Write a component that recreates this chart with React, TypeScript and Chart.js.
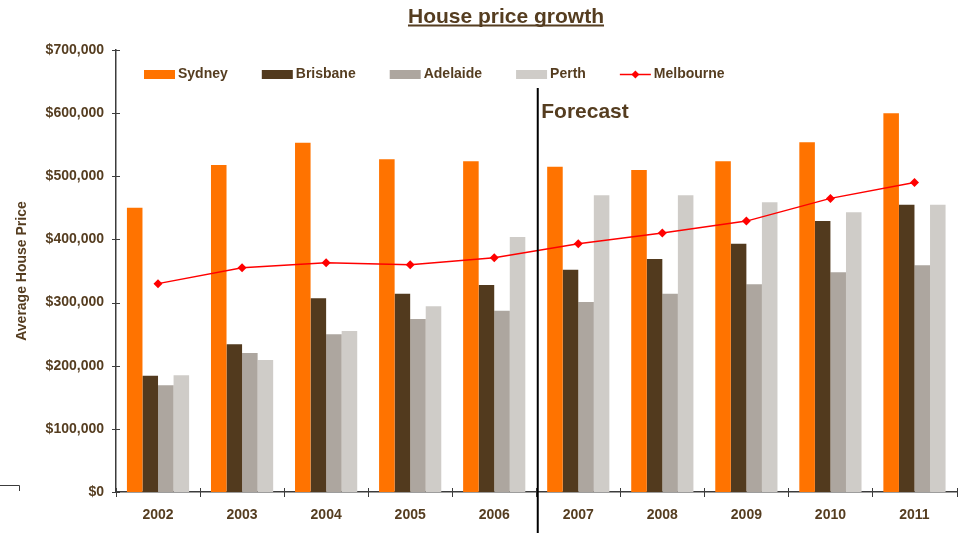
import { useEffect, useRef } from 'react';
import { Chart, registerables } from 'chart.js';

Chart.register(...registerables);

const years = ['2002', '2003', '2004', '2005', '2006', '2007', '2008', '2009', '2010', '2011'];
const sydney = [450000, 518000, 553000, 527000, 524000, 515000, 510000, 524000, 554000, 600000];
const brisbane = [184000, 234000, 307000, 314000, 328000, 352000, 369000, 393000, 429000, 455000];
const adelaide = [169000, 220000, 250000, 274000, 287000, 301000, 314000, 329000, 348000, 359000];
const perth = [185000, 209000, 255000, 294000, 404000, 470000, 470000, 459000, 443000, 455000];
const melbourne = [330000, 355000, 363000, 360000, 371000, 393000, 410000, 429000, 465000, 490000];
const yTicks = [0, 100000, 200000, 300000, 400000, 500000, 600000, 700000];

const chartTitle = 'House price growth';
const yAxisTitle = 'Average House Price';
const forecastLabel = 'Forecast';
const forecastStart = 5;

const TEXT = '#553D20';
const AXIS = '#3c3c3c';
const FONT = '"Liberation Sans", Arial, sans-serif';
const colors = {
  Sydney: '#FF7300',
  Brisbane: '#523A1E',
  Adelaide: '#ADA69F',
  Perth: '#CFCCC8',
  Melbourne: '#FF0000',
};

const fmt = (v: number) => '$' + Math.round(v).toLocaleString('en-US');

const decorPlugin = {
  id: 'decor',
  afterDraw(chart: any) {
    const { ctx, chartArea, scales } = chart;
    const xs = scales.x;
    const ys = scales.y;
    ctx.save();

    // tick marks crossing the axes
    ctx.strokeStyle = AXIS;
    ctx.lineWidth = 1;
    yTicks.forEach((v) => {
      const y = Math.round(ys.getPixelForValue(v)) + 0.5;
      ctx.beginPath();
      ctx.moveTo(chartArea.left - 4, y);
      ctx.lineTo(chartArea.left + 4, y);
      ctx.stroke();
    });
    for (let i = 0; i <= years.length; i++) {
      const x = Math.round(xs.getPixelForValue(i - 0.5)) + 0.5;
      ctx.beginPath();
      ctx.moveTo(x, chartArea.bottom - 4);
      ctx.lineTo(x, chartArea.bottom + 5);
      ctx.stroke();
    }

    // small corner mark bottom-left
    ctx.beginPath();
    ctx.moveTo(0, chartArea.bottom - 6.5);
    ctx.lineTo(19.5, chartArea.bottom - 6.5);
    ctx.lineTo(19.5, chartArea.bottom - 1);
    ctx.stroke();

    // title
    ctx.fillStyle = TEXT;
    ctx.font = `bold 21px ${FONT}`;
    ctx.textAlign = 'center';
    ctx.textBaseline = 'alphabetic';
    const tx = 506;
    ctx.fillText(chartTitle, tx, 23);
    const tw = ctx.measureText(chartTitle).width;
    ctx.fillRect(tx - tw / 2, 24.5, tw, 2);

    // legend
    ctx.font = `bold 14px ${FONT}`;
    ctx.textAlign = 'left';
    ctx.textBaseline = 'middle';
    const ly = 74.5;
    let lx = chartArea.left + 28;
    const items = ['Sydney', 'Brisbane', 'Adelaide', 'Perth', 'Melbourne'];
    items.forEach((name) => {
      const c = (colors as any)[name];
      if (name === 'Melbourne') {
        ctx.strokeStyle = c;
        ctx.lineWidth = 1.5;
        ctx.beginPath();
        ctx.moveTo(lx, ly);
        ctx.lineTo(lx + 31, ly);
        ctx.stroke();
        ctx.fillStyle = c;
        ctx.beginPath();
        ctx.moveTo(lx + 15.5, ly - 4);
        ctx.lineTo(lx + 19.5, ly);
        ctx.lineTo(lx + 15.5, ly + 4);
        ctx.lineTo(lx + 11.5, ly);
        ctx.closePath();
        ctx.fill();
      } else {
        ctx.fillStyle = c;
        ctx.fillRect(lx, ly - 4.5, 31, 9);
      }
      ctx.fillStyle = TEXT;
      ctx.fillText(name, lx + 34, ly);
      lx += 34 + ctx.measureText(name).width + 34;
    });

    // forecast divider
    const fx = xs.getPixelForValue(forecastStart - 0.5) + 1.5;
    ctx.strokeStyle = '#000000';
    ctx.lineWidth = 2;
    ctx.beginPath();
    ctx.moveTo(fx, 88);
    ctx.lineTo(fx, chart.height);
    ctx.stroke();
    ctx.fillStyle = TEXT;
    ctx.font = `bold 21px ${FONT}`;
    ctx.textBaseline = 'alphabetic';
    ctx.textAlign = 'left';
    ctx.fillText(forecastLabel, fx + 3.5, 118);

    ctx.restore();
  },
};

export default function App() {
  const ref = useRef<HTMLCanvasElement>(null);

  useEffect(() => {
    if (!ref.current) return;
    const chart = new Chart(ref.current, {
      type: 'bar',
      data: {
        labels: years,
        datasets: [
          { type: 'line', label: 'Melbourne', data: melbourne, borderColor: colors.Melbourne, backgroundColor: colors.Melbourne, borderWidth: 1.5, pointStyle: 'rectRot', pointRadius: 4.5, pointBorderWidth: 0, pointBackgroundColor: colors.Melbourne, tension: 0, order: 0 } as any,
          { label: 'Sydney', data: sydney, backgroundColor: colors.Sydney, order: 1 },
          { label: 'Brisbane', data: brisbane, backgroundColor: colors.Brisbane, order: 1 },
          { label: 'Adelaide', data: adelaide, backgroundColor: colors.Adelaide, order: 1 },
          { label: 'Perth', data: perth, backgroundColor: colors.Perth, order: 1 },
        ],
      },
      options: {
        responsive: false,
        animation: false,
        events: [],
        datasets: { bar: { categoryPercentage: 0.74, barPercentage: 1.0, borderWidth: 0 } },
        layout: { padding: { top: 50, right: 4, left: 0, bottom: 0 } },
        plugins: {
          legend: { display: false },
          title: { display: false },
          tooltip: { enabled: false },
        },
        scales: {
          x: {
            type: 'category',
            offset: true,
            grid: { display: false, offset: true },
            border: { display: true, color: AXIS, width: 1.5 },
            ticks: { color: TEXT, font: { family: FONT, size: 14, weight: 'bold' }, padding: 7, maxRotation: 0 },
            afterFit: (s: any) => { s.height = 41; },
          },
          y: {
            min: 0,
            max: 700000,
            grid: { display: false },
            border: { display: true, color: AXIS, width: 1.5 },
            afterBuildTicks: (s: any) => { s.ticks = yTicks.map((v) => ({ value: v })); },
            ticks: {
              color: TEXT,
              font: { family: FONT, size: 14, weight: 'bold' },
              padding: 4,
              callback: (v: any) => fmt(Number(v)),
            },
            title: {
              display: true,
              text: yAxisTitle,
              color: TEXT,
              font: { family: FONT, size: 14, weight: 'bold' },
              padding: { top: 14, bottom: 0 },
            },
            afterFit: (s: any) => { s.width = 116; },
          },
        },
      } as any,
      plugins: [decorPlugin],
    });
    return () => chart.destroy();
  }, []);

  return (
    <div style={{ position: 'fixed', left: 0, top: 0, width: 961, height: 533, background: '#ffffff' }}>
      <canvas ref={ref} width={961} height={533} style={{ display: 'block' }} />
    </div>
  );
}
